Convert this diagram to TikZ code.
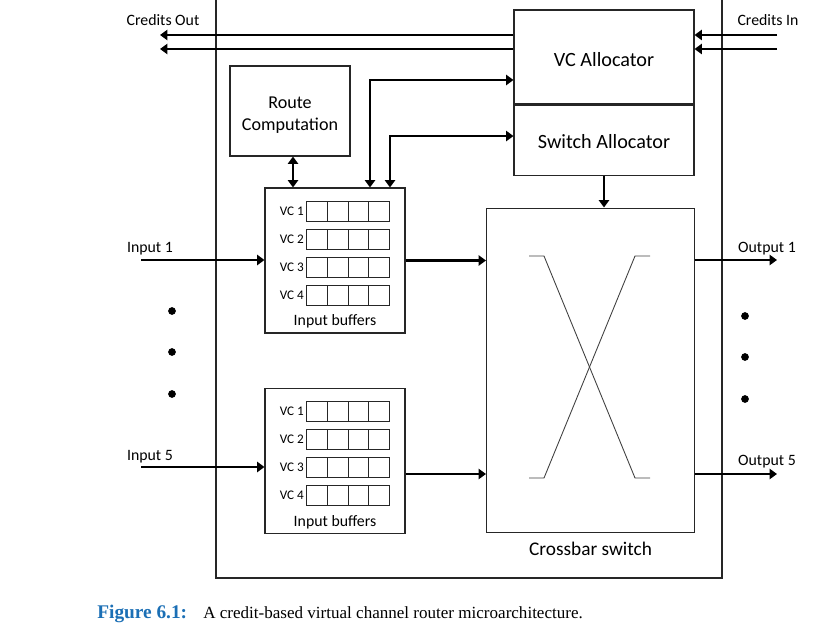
\documentclass[tikz,border=0pt]{standalone}
\usepackage{fontspec}
\setmainfont{Carlito}
\newfontfamily\capfont{Liberation Serif}
\usetikzlibrary{arrows.meta,calc}
\definecolor{capcol}{HTML}{1B6FB5}
\definecolor{boxcol}{HTML}{262626}

\tikzset{
  box/.style={draw=boxcol, line width=0.6pt, inner sep=0pt},
  arr/.style={line width=1.5pt, -{Triangle[length=4.2pt,width=5.8pt]}},
  darr/.style={line width=1.5pt, {Triangle[length=4.2pt,width=5.8pt]}-{Triangle[length=4.2pt,width=5.8pt]}},
  lab/.style={font=\fontsize{9}{11}\selectfont, inner sep=1pt},
  biglab/.style={font=\fontsize{11.5}{14}\selectfont},
  vclab/.style={font=\fontsize{7.5}{9}\selectfont, anchor=east, inner sep=1pt},
  xline/.style={draw=black!75, line width=0.5pt},
}

\begin{document}
\begin{tikzpicture}[x=0.02cm, y=-0.02cm]
\useasboundingbox (0,0) rectangle (828,628);

% router outline (its top runs off the page)
\draw[boxcol, line width=0.6pt] (216,0) -- (216,578) -- (722,578) -- (722,0);

% ------------------------------------------------------------ blocks
\node[box, minimum width=3.6cm, minimum height=1.88cm] (vca) at (604,57) {};
\node[biglab] (vca-t) at ($(vca)+(0,2.5)$) {VC Allocator};
\node[box, minimum width=3.6cm, minimum height=1.4cm, anchor=north] (sa) at (vca.south) {};
\node[biglab] (sa-t) at ($(sa)+(0,1.5)$) {Switch Allocator};
\node[box, minimum width=2.4cm, minimum height=1.8cm] (rc) at (290,111) {};
\node[align=center, font=\fontsize{10.3}{12.5}\selectfont] (rc-t) at ($(rc)+(0,4)$) {Route\\Computation};
\node[box, minimum width=2.8cm, minimum height=2.9cm] (buf1) at (335,260.5) {};
\node[box, minimum width=2.8cm, minimum height=2.9cm] (buf2) at (335,461) {};
\node[box, minimum width=4.16cm, minimum height=6.5cm] (xbar) at (590.5,370.5) {};
\node[font=\fontsize{11}{13}\selectfont] (xlab) at ($(xbar.south)+(0,15)$) {Crossbar switch};

% virtual channel queues
\foreach \b in {buf1,buf2} {
  \foreach \r in {1,...,4} {
    \node[vclab] (\b-vc\r) at ($(\b.north west)+(41.5,13.5+28*\r-18)$) {VC \r};
    \foreach \c in {0,...,3}
      \draw[boxcol, line width=0.55pt] ($(\b.north west)+(42+20.75*\c,13.5+28*\r-28)$) rectangle +(20.75,20);
  }
  \node[lab] (\b-lab) at ($(\b.south)+(0,-12)$) {Input buffers};
}

% crossbar symbol
\draw[xline] (529,256) -- (544,256) -- (635,478) -- (650,478);
\draw[xline] (529,478) -- (544,478) -- (635,256) -- (650,256);

% ------------------------------------------------------------ credits
\node[lab] (cout) at (163,20) {Credits Out};
\node[lab] (cin) at (768,20) {Credits In};
\coordinate (cout1) at (160,35);
\coordinate (cout2) at (160,49);
\coordinate (cin1) at (777,35);
\coordinate (cin2) at (777,49);
\draw[arr] (vca.west |- cout1) -- (cout1);
\draw[arr] (vca.west |- cout2) -- (cout2);
\draw[arr] (cin1) -- (vca.east |- cin1);
\draw[arr] (cin2) -- (vca.east |- cin2);

% ------------------------------------------------------------ control
\coordinate (rcb) at ($(rc.south)+(3,0)$);
\draw[darr] (rcb) -- (rcb |- buf1.north);
\draw[darr] ($(vca.west)+(0,23)$) -| ($(buf1.north)+(35,0)$);
\draw[darr] ($(sa.west)+(0,-4)$) -| ($(buf1.north)+(55,0)$);
\draw[arr] (sa.south) -- (sa.south |- xbar.north);

% ------------------------------------------------------------ datapath
\node[lab] (in1lab) at (150,249) {Input 1};
\node[lab] (in5lab) at (150,457) {Input 5};
\node[lab] (out1lab) at (767,249) {Output 1};
\node[lab] (out5lab) at (767,462) {Output 5};
\coordinate (in1) at (141,260);
\coordinate (in5) at (141,467);
\coordinate (out1) at (777,260);
\coordinate (out5) at (777,474);
\coordinate (b2o) at ($(buf2.east)+(0,13)$);
\draw[arr] (in1) -- (buf1.west |- in1);
\draw[arr] (in5) -- (buf2.west |- in5);
\draw[arr] (buf1.east) -- (xbar.west |- buf1.east);
\draw[arr] (b2o) -- (xbar.west |- b2o);
\draw[arr] (xbar.east |- out1) -- (out1);
\draw[arr] (xbar.east |- out5) -- (out5);

% more ports
\foreach \y in {311,352,394} \fill (172,\y) circle (2.2pt);
\foreach \y in {316,357,399} \fill (745,\y) circle (2.2pt);

% caption
\node[anchor=west, inner sep=0pt, font=\capfont\fontsize{9.7}{12}\selectfont] (cap) at (97,614)
  {\makebox[2.12cm][l]{\fontsize{11}{12}\selectfont\textcolor{capcol}{\textbf{Figure 6.1:}}}A credit-based virtual channel router microarchitecture.};

\end{tikzpicture}
\end{document}
